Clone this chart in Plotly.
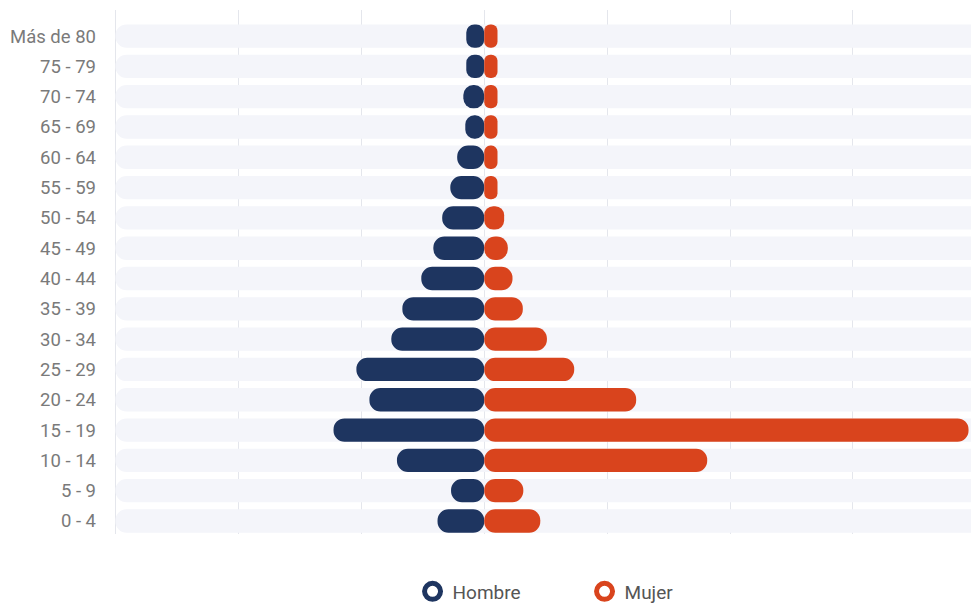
import plotly.graph_objects as go

# Age groups from bottom to top
age_groups = ["0 - 4", "5 - 9", "10 - 14", "15 - 19", "20 - 24", "25 - 29", "30 - 34",
              "35 - 39", "40 - 44", "45 - 49", "50 - 54", "55 - 59", "60 - 64",
              "65 - 69", "70 - 74", "75 - 79", "Más de 80"]

# Values (arbitrary share units)
hombre = [1.90, 1.35, 3.55, 6.13, 4.67, 5.20, 3.78, 3.33, 2.56, 2.07, 1.71, 1.38, 1.10,
          0.77, 0.85, 0.73, 0.73]
mujer = [2.28, 1.59, 9.07, 19.70, 6.18, 3.66, 2.55, 1.57, 1.15, 0.96, 0.81, 0.54, 0.54,
         0.54, 0.54, 0.54, 0.54]

track_start, track_end = -15, 25  # background track extent

NAVY = "#1e3560"
ORANGE = "#d9441d"
TRACK = "#f4f5fa"
BAR_W = 0.77
FONT = "Roboto, 'Source Sans Pro', sans-serif"

fig = go.Figure()

fig.add_trace(go.Bar(
    y=age_groups, x=[track_start - track_end] * len(age_groups), base=track_end,
    orientation="h", marker=dict(color=TRACK, line=dict(width=0), cornerradius=12),
    width=BAR_W, showlegend=False, hoverinfo="skip"))

fig.add_trace(go.Bar(
    y=age_groups, x=[-v for v in hombre], base=0, orientation="h", name="Hombre",
    marker=dict(color=NAVY, line=dict(width=0), cornerradius=12),
    width=BAR_W, showlegend=False, customdata=hombre,
    hovertemplate="%{y}: %{customdata}<extra>Hombre</extra>"))

fig.add_trace(go.Bar(
    y=age_groups, x=mujer, base=0, orientation="h", name="Mujer",
    marker=dict(color=ORANGE, line=dict(width=0), cornerradius=12),
    width=BAR_W, showlegend=False,
    hovertemplate="%{y}: %{x}<extra>Mujer</extra>"))

# Legend entries (ring markers)
for name, col in [("Hombre", NAVY), ("Mujer", ORANGE)]:
    fig.add_trace(go.Scatter(
        x=[None], y=[None], mode="markers", name=name,
        marker=dict(symbol="circle-open", size=16, color=col, line=dict(width=5, color=col))))

fig.update_layout(
    width=971, height=606,
    barmode="overlay",
    plot_bgcolor="white", paper_bgcolor="white",
    margin=dict(l=113, r=0, t=10, b=72, autoexpand=False),
    font=dict(family=FONT, color="#777777", size=19),
    xaxis=dict(range=[-15.1, 19.8], dtick=5, tick0=0, showticklabels=False,
               showgrid=True, gridcolor="#e4e6ec", gridwidth=1,
               zeroline=True, zerolinecolor="#e4e6ec", zerolinewidth=1,
               fixedrange=True),
    yaxis=dict(categoryorder="array", categoryarray=age_groups,
               range=[-0.43, 16.86], showgrid=False, zeroline=False,
               ticks="", ticklabelstandoff=16, fixedrange=True,
               tickfont=dict(family=FONT, size=18.5, color="#7a7a7a")),
    legend=dict(orientation="h", xref="container", yref="container",
                x=0.602, xanchor="center", y=0.024, yanchor="middle",
                font=dict(family=FONT, size=19, color="#555555"), entrywidth=127,
                bgcolor="rgba(0,0,0,0)"),
    showlegend=True,
)

fig.write_html("out.html")
